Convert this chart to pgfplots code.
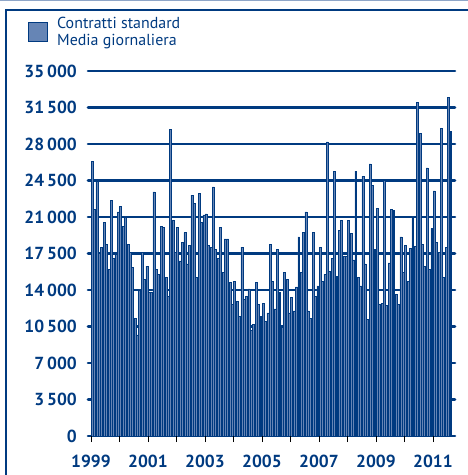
\documentclass[border=0pt]{standalone}
\usepackage{fontspec}
\setmainfont{PT Sans}
\usepackage{pgfplots}
\usepackage{pgfplotstable}
\pgfplotsset{compat=1.18}
\definecolor{navy}{HTML}{003A80}
\definecolor{barfill}{HTML}{6685B5}
\definecolor{lightline}{HTML}{8FA6C8}

\pgfplotstableread{
x y
0.5 26300
1.5 21700
2.5 24400
3.5 17500
4.5 18100
5.5 20500
6.5 18400
7.5 16000
8.5 22600
9.5 17000
10.5 17400
11.5 21500
12.5 22000
13.5 20100
14.5 21000
15.5 18400
16.5 17600
17.5 16200
18.5 11300
19.5 9700
20.5 14000
21.5 17600
22.5 15000
23.5 16300
24.5 13800
25.5 13800
26.5 23400
27.5 16000
28.5 15500
29.5 20100
30.5 20000
31.5 15200
32.5 13400
33.5 29400
34.5 20700
35.5 17600
36.5 20000
37.5 16800
38.5 18600
39.5 19500
40.5 16500
41.5 18300
42.5 23100
43.5 22300
44.5 15200
45.5 23300
46.5 20500
47.5 21200
48.5 21300
49.5 18300
50.5 18100
51.5 23900
52.5 17900
53.5 17000
54.5 20000
55.5 15700
56.5 18900
57.5 18900
58.5 14700
59.5 12600
60.5 14800
61.5 12900
62.5 11500
63.5 18100
64.5 13100
65.5 13400
66.5 14100
67.5 10100
68.5 10700
69.5 14700
70.5 12600
71.5 11500
72.5 12700
73.5 11000
74.5 11800
75.5 18400
76.5 14800
77.5 12200
78.5 17900
79.5 13800
80.5 10400
81.5 15700
82.5 15000
83.5 11800
84.5 13300
85.5 12000
86.5 14300
87.5 19100
88.5 15700
89.5 19500
90.5 21500
91.5 12000
92.5 11300
93.5 19500
94.5 13400
95.5 14400
96.5 18100
97.5 14800
98.5 15500
99.5 28200
100.5 15800
101.5 17000
102.5 25400
103.5 15300
104.5 19700
105.5 20700
106.5 17200
107.5 17200
108.5 20700
109.5 19400
110.5 16900
111.5 25400
112.5 15200
113.5 14400
114.5 24900
115.5 16500
116.5 11200
117.5 26100
118.5 24000
119.5 17900
120.5 21800
121.5 12600
122.5 12700
123.5 24500
124.5 12500
125.5 16600
126.5 21700
127.5 21600
128.5 13600
129.5 12600
130.5 19100
131.5 15700
132.5 18300
133.5 14800
134.5 18000
135.5 21000
136.5 18200
137.5 32000
138.5 29000
139.5 18400
140.5 16300
141.5 25700
142.5 16000
143.5 19900
144.5 23500
145.5 18600
146.5 17600
147.5 29500
148.5 15200
149.5 18100
150.5 32500
151.5 29200
}\datatable

\begin{document}
\begin{tikzpicture}[x=1bp,y=1bp]
\useasboundingbox (0,0) rectangle (468,475);
\draw[lightline, line width=1.2bp] (0,474.4) -- (468,474.4);
\draw[navy, line width=2bp] (6,0) -- (6,465) -- (468,465);
\begin{axis}[
  at={(88bp,39bp)}, anchor=south west,
  scale only axis, width=367bp, height=365bp,
  xmin=-1.26, xmax=153.3, ymin=0, ymax=35000,
  scaled y ticks=false,
  axis x line*=bottom, axis y line*=left,
  axis line style={draw=none},
  ytick={0,3500,7000,10500,14000,17500,21000,24500,28000,31500,35000},
  yticklabels={0,3\,500,7\,000,10\,500,14\,000,17\,500,21\,000,24\,500,28\,000,31\,500,35\,000},
  ymajorgrids, grid style={navy, line width=2.6bp, line cap=round},
  xtick={0,12,...,144},
  xticklabels={1999,,2001,,2003,,2005,,2007,,2009,,2011},
  tick align=outside, major tick length=6bp,
  xtick style={black, line width=0.8bp},
  ytick style={draw=none},
  ticklabel style={font=\fontsize{17.5}{20}\selectfont\bfseries, text=navy},
  yticklabel style={anchor=east, inner sep=0pt, xshift=-5bp},
  xticklabel style={anchor=north, inner sep=0pt, yshift=-13bp},
  legend style={draw=none, fill=none, inner sep=0pt, at={(-0.1635,1.153)}, anchor=north west,
    font=\fontsize{16}{17}\selectfont, text=navy, cells={align=left, anchor=west},
    /tikz/every odd column/.append style={column sep=7bp}},
  legend cell align=left,
  legend image code/.code={\draw[navy, fill=barfill, line width=1bp] (0bp,-9bp) rectangle (19bp,10bp);},
]
\addplot[ybar, bar width=0.82, draw=navy, fill=barfill, line width=0.5bp] table[x=x,y=y] {\datatable};
\addlegendentry{Contratti standard\\Media giornaliera}
\end{axis}
\end{tikzpicture}
\end{document}
